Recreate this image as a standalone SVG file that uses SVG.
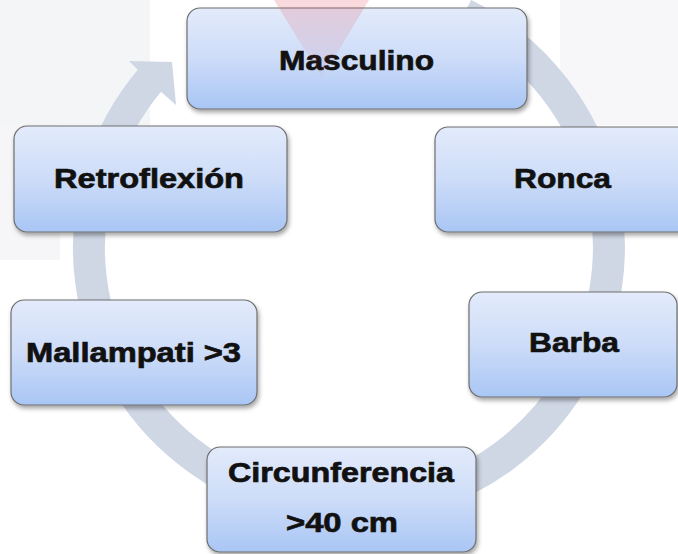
<svg xmlns="http://www.w3.org/2000/svg" width="678" height="554" viewBox="0 0 678 554">
<style>
.box{fill:url(#bg);stroke:#6e6e6e;stroke-width:1.2;filter:url(#sh)}
.lbl{font-family:"Liberation Sans",Arial,sans-serif;font-weight:bold;font-size:28px;fill:#111;stroke:#111;stroke-width:0.7;text-anchor:middle}
.ring{fill:none;stroke:#cfd7e5;stroke-width:32}
</style>
<defs>
<linearGradient id="bg" x1="0" y1="0" x2="0" y2="1">
<stop offset="0" stop-color="#e3ebfb"/>
<stop offset="0.5" stop-color="#cddcf8"/>
<stop offset="1" stop-color="#a9c6f5"/>
</linearGradient>
<linearGradient id="pk" x1="0" y1="0" x2="0" y2="1">
<stop offset="0" stop-color="#e04050" stop-opacity="0.2"/>
<stop offset="1" stop-color="#e04050" stop-opacity="0.03"/>
</linearGradient>
<filter id="sh" x="-10%" y="-10%" width="125%" height="130%">
<feDropShadow dx="1.5" dy="3" stdDeviation="2" flood-color="#000" flood-opacity="0.35"/>
</filter>
</defs>
<rect width="678" height="554" fill="#ffffff"/>
<g id="watermark-bg">
<rect x="0" y="0" width="150" height="125" fill="#f4f5f7"/>
<rect x="0" y="125" width="60" height="135" fill="#f6f6f8"/>
<rect x="560" y="0" width="118" height="125" fill="#f7f7f9"/>
</g>
<g id="connectors">
<path class="ring" d="M464 14.3 A260 260 0 1 1 150 80"/>
<polygon points="129,61 172,62 176,105 150,82" fill="#cfd7e5"/>
</g>
<g id="n1"><rect class="box" x="187" y="8" width="340" height="101" rx="13"/><text class="lbl" x="356.5" y="70" textLength="155" lengthAdjust="spacingAndGlyphs">Masculino</text></g>
<g id="n2"><rect class="box" x="435" y="127" width="258" height="105" rx="13"/><text class="lbl" x="562.5" y="188" textLength="97" lengthAdjust="spacingAndGlyphs">Ronca</text></g>
<g id="n3"><rect class="box" x="469" y="292" width="208" height="105" rx="13"/><text class="lbl" x="574" y="352" textLength="90" lengthAdjust="spacingAndGlyphs">Barba</text></g>
<g id="n4"><rect class="box" x="207" y="447" width="269" height="105" rx="13"/><text class="lbl" x="341" y="482" textLength="226" lengthAdjust="spacingAndGlyphs">Circunferencia</text><text class="lbl" x="342" y="532" textLength="112" lengthAdjust="spacingAndGlyphs">&gt;40 cm</text></g>
<g id="n5"><rect class="box" x="11" y="300" width="246" height="105" rx="13"/><text class="lbl" x="133.5" y="362" textLength="215" lengthAdjust="spacingAndGlyphs">Mallampati &gt;3</text></g>
<g id="n6"><rect class="box" x="14" y="126" width="273" height="106" rx="13"/><text class="lbl" x="149" y="188" textLength="190" lengthAdjust="spacingAndGlyphs">Retroflexión</text></g>
<g id="watermark"><polygon points="274,0 369,0 322,78" fill="url(#pk)"/></g>
</svg>
